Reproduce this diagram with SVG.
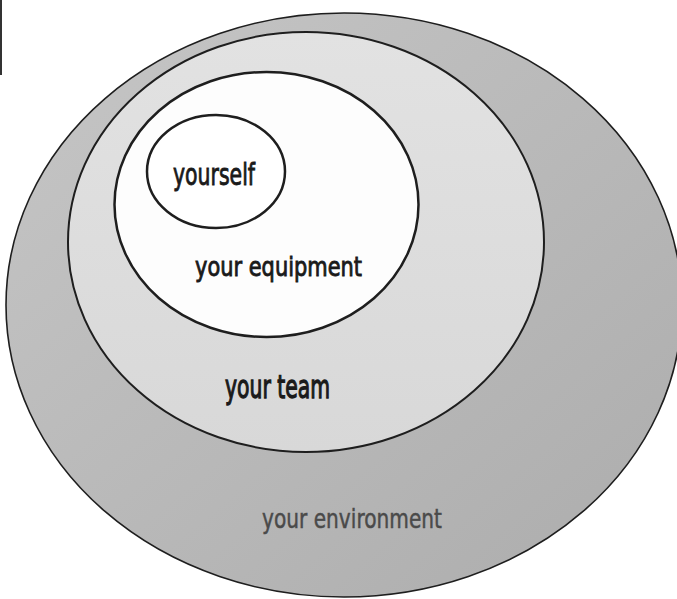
<svg xmlns="http://www.w3.org/2000/svg" width="677" height="599" viewBox="0 0 677 599">
  <style>
    .ring { stroke: #1e1e1e; }
    .lbl { font-family: "DejaVu Sans", "Liberation Sans", sans-serif; fill: #1a1a1a; stroke: #1a1a1a; stroke-width: 0.9; }
  </style>
  <defs>
    <linearGradient id="gEnv" x1="0" y1="0" x2="1" y2="1">
      <stop offset="0" stop-color="#c6c6c6"/>
      <stop offset="1" stop-color="#acacac"/>
    </linearGradient>
    <linearGradient id="gTeam" x1="0" y1="0" x2="0" y2="1">
      <stop offset="0" stop-color="#e2e2e2"/>
      <stop offset="1" stop-color="#d8d8d8"/>
    </linearGradient>
  </defs>
  <rect x="0" y="0" width="677" height="599" fill="#ffffff"/>
  <rect x="0" y="0" width="2" height="75" fill="#333333"/>

  <g id="environment">
    <ellipse class="ring" cx="344" cy="305" rx="338" ry="292" fill="url(#gEnv)" stroke-width="1.6"/>
    <text class="lbl" x="262" y="528" font-size="27" textLength="180" lengthAdjust="spacingAndGlyphs" style="fill:#4a4a4a;stroke:#4a4a4a;stroke-width:0.5">your environment</text>
  </g>

  <g id="team">
    <ellipse class="ring" cx="306" cy="242" rx="238" ry="210" fill="url(#gTeam)" stroke-width="2"/>
    <text class="lbl" x="225" y="398" font-size="32" textLength="105" lengthAdjust="spacingAndGlyphs" style="stroke-width:1.3">your team</text>
  </g>

  <g id="equipment">
    <ellipse class="ring" cx="266.5" cy="204.5" rx="152" ry="132.5" fill="#fdfdfd" stroke-width="2.5"/>
    <text class="lbl" x="195" y="276" font-size="26" textLength="167" lengthAdjust="spacingAndGlyphs">your equipment</text>
  </g>

  <g id="yourself">
    <ellipse class="ring" cx="216" cy="171.5" rx="69" ry="56.5" fill="#ffffff" stroke-width="2.5"/>
    <text class="lbl" x="173" y="185" font-size="30" textLength="82" lengthAdjust="spacingAndGlyphs">yourself</text>
  </g>
</svg>
